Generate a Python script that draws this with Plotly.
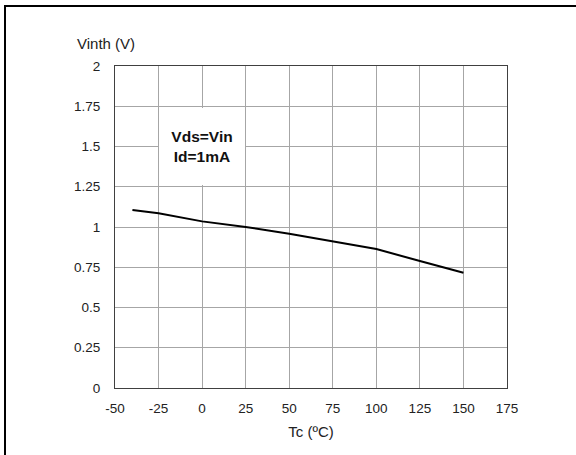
import plotly.graph_objects as go

temps = [-40, -25, 0, 25, 50, 75, 100, 125, 150]
vinth = [1.105, 1.085, 1.035, 1.0, 0.958, 0.909, 0.863, 0.789, 0.716]

x_ticks = [-50, -25, 0, 25, 50, 75, 100, 125, 150, 175]
x_labels = ["-50", "-25", "0", "25", "50", "75", "100", "125", "150", "175"]
y_ticks = [0, 0.25, 0.5, 0.75, 1, 1.25, 1.5, 1.75, 2]
y_labels = ["0", "0.25", "0.5", "0.75", "1", "1.25", "1.5", "1.75", "2"]

FONT = "Liberation Sans, Arial, sans-serif"

fig = go.Figure()
fig.add_trace(go.Scatter(x=temps, y=vinth, mode="lines",
                         line=dict(color="black", width=2), showlegend=False,
                         hoverinfo="skip"))

fig.update_layout(
    width=576, height=455,
    margin=dict(l=115, r=69, t=66, b=67),
    paper_bgcolor="white", plot_bgcolor="white",
    font=dict(family=FONT, color="#222", size=13.5),
    xaxis=dict(range=[-50, 175], tickvals=x_ticks, ticktext=x_labels,
               showgrid=True, gridcolor="#a6a6a6", gridwidth=1,
               showline=True, linecolor="#404040", linewidth=1, mirror=True,
               ticks="outside", ticklen=8, tickcolor="rgba(0,0,0,0)",
               zeroline=False,
               title=dict(text="Tc (ºC)", font=dict(size=15, family=FONT, color="#222"), standoff=11)),
    yaxis=dict(range=[0, 2], tickvals=y_ticks, ticktext=y_labels,
               showgrid=True, gridcolor="#a6a6a6", gridwidth=1,
               showline=True, linecolor="#404040", linewidth=1, mirror=True,
               ticks="outside", ticklen=11, tickcolor="rgba(0,0,0,0)",
               zeroline=False),
)

fig.add_annotation(x=0, y=1.5, xref="x", yref="y",
                   text="<b>Vds=Vin</b><br><b>Id=1mA</b>",
                   showarrow=False, bgcolor="white", borderpad=0, borderwidth=0,
                   width=86, height=77,
                   font=dict(size=15.5, family=FONT, color="#111"))

fig.add_annotation(x=(75 - 115) / 392, y=(388 - 44) / 322, xref="paper", yref="paper",
                   xanchor="left", yanchor="middle", text="Vinth (V)", showarrow=False,
                   font=dict(size=15, family=FONT, color="#222"))

fig.add_shape(type="rect", xref="paper", yref="paper",
              x0=(5 - 115) / 392, x1=1.3, y0=-0.3, y1=(388 - 6) / 322,
              line=dict(color="black", width=2), fillcolor="rgba(0,0,0,0)", layer="above")

fig.write_html("out.html", config={"displayModeBar": False},
               post_script="document.body.style.margin='0';document.body.style.overflow='hidden';")
